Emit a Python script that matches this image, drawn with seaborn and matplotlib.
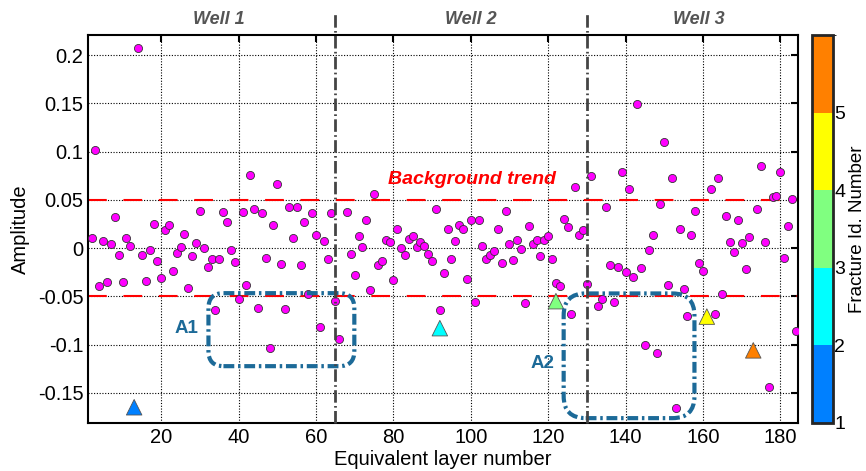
import numpy as np
import pandas as pd
import matplotlib
matplotlib.use("Agg")
import matplotlib.pyplot as plt
import seaborn as sns
from matplotlib.colors import ListedColormap, BoundaryNorm
from matplotlib.patches import FancyBboxPatch

# ---- data ----
layer = [2, 3, 4, 5, 6, 7, 8, 9, 10, 11, 12, 14, 15, 16, 17, 18, 19, 20,
         21, 22, 23, 24, 25, 26, 27, 28, 29, 30, 31, 32, 33, 34, 35, 36, 37, 38, 39, 40,
         41, 42, 43, 44, 45, 46, 47, 48, 49, 50, 51, 52, 53, 54, 55, 56, 57, 58, 59, 60,
         61, 62, 63, 64, 65, 66, 68, 69, 70, 71, 72, 73, 74, 75, 76, 77, 78, 79, 80,
         81, 82, 83, 84, 85, 86, 87, 88, 89, 90, 91, 92, 93, 94, 95, 96, 97, 98, 99, 100,
         101, 102, 103, 104, 105, 106, 107, 108, 109, 110, 111, 112, 113, 114, 115, 116,
         117, 118, 119, 120, 121, 122, 123, 124, 125, 126, 127, 128, 129, 130, 131,
         133, 134, 135, 136, 137, 138, 139, 140, 141, 142, 143, 144, 145, 146, 147, 148,
         149, 150, 151, 152, 153, 154, 155, 156, 157, 158, 159, 160, 162, 163, 164, 165,
         166, 167, 168, 169, 170, 171, 172, 174, 175, 176, 177, 178, 179, 180, 181, 182,
         183, 184]
amplitude = [0.011, 0.102, -0.039, 0.007, -0.035, 0.004, 0.032, -0.007, -0.035, 0.011, 0.002,
             0.207, -0.007, -0.034, -0.002, 0.025, -0.013, -0.031,
             0.019, 0.024, -0.024, -0.005, 0.001, 0.015, -0.041, -0.008, 0.005, 0.038,
             0.000, -0.020, -0.011, -0.064, -0.011, 0.037, 0.027, -0.002, -0.014, -0.053,
             0.037, -0.038, 0.076, 0.041, -0.062, 0.036, -0.010, -0.104, 0.024, 0.067,
             -0.016, -0.063, 0.043, 0.011, 0.043, -0.018, 0.027, -0.048, 0.036, 0.014,
             -0.082, 0.007, -0.011, 0.036, -0.055, -0.094, 0.037, -0.006, -0.028, 0.013,
             0.001, 0.029, -0.043, 0.056, -0.018, -0.013, 0.008, 0.006, -0.033,
             0.020, 0.000, -0.007, 0.009, 0.013, 0.001, 0.006, 0.002, -0.006, -0.013,
             0.041, -0.064, -0.026, 0.020, -0.011, 0.007, 0.024, 0.020, -0.032, 0.029,
             -0.056, 0.029, 0.002, -0.011, -0.007, -0.003, 0.020, -0.015, 0.038, 0.004,
             -0.012, 0.008, -0.001, -0.057, 0.023, 0.004,
             0.008, -0.008, 0.008, 0.013, -0.011, -0.036, -0.039, 0.030, 0.022, -0.068,
             0.063, 0.014, 0.019, -0.037, 0.075,
             -0.060, -0.053, 0.043, -0.018, -0.056, -0.020, 0.079, -0.025, 0.061, -0.030,
             0.149, -0.021, -0.100, -0.002, 0.014, -0.109,
             0.046, 0.110, -0.038, 0.073, -0.166, 0.020, -0.042, -0.070, 0.014, 0.038,
             -0.015, -0.024, 0.061, -0.068, 0.073, -0.048,
             0.033, 0.006, -0.004, 0.029, 0.005, -0.022, 0.012, 0.041, 0.085, 0.006,
             -0.144, 0.053, 0.054, 0.079, -0.010, 0.023,
             0.051, -0.086]

frac_layer = [13, 92, 122, 161, 173]
frac_amp = [-0.165, -0.083, -0.055, -0.071, -0.106]
frac_id = [1, 2, 3, 4, 5]
frac_colors = ["#0080ff", "#00ffff", "#80ff80", "#ffff00", "#ff8000"]

well_names = ["Well 1", "Well 2", "Well 3"]
well_centres = [35, 100, 159]
well_bounds = [65, 130]
trend_levels = [-0.0495, 0.05]

xticks = [20, 40, 60, 80, 100, 120, 140, 160, 180]
yticks = [-0.15, -0.1, -0.05, 0, 0.05, 0.1, 0.15, 0.2]
ytick_labels = ["-0.15", "-0.1", "-0.05", "0", "0.05", "0.1", "0.15", "0.2"]

# anomaly zones: x0, x1, y0, y1, corner radius (px), label x, label y
box_names = ["A1", "A2"]
box_x0 = [32.2, 124.0]
box_x1 = [69.9, 157.8]
box_y0 = [-0.1224, -0.1763]
box_y1 = [-0.0467, -0.047]
box_radius = [15, 22]
box_label_x = [26.6, 118.6]
box_label_y = [-0.083, -0.12]

box_color = "#1c6a98"

# ---- style ----
sns.set_style("white")
plt.rcParams["font.family"] = ["Liberation Sans", "DejaVu Sans"]
plt.rcParams.update({"text.color": "black", "axes.labelcolor": "black",
                     "xtick.color": "black", "ytick.color": "black"})

fig = plt.figure(figsize=(8.66, 4.71), dpi=100)
ax = fig.add_axes([0.1013, 0.1026, 0.8199, 0.8231])
cax = fig.add_axes([0.938, 0.1026, 0.0236, 0.8231])

pts = pd.DataFrame({"layer": layer, "amplitude": amplitude})
sns.scatterplot(data=pts, x="layer", y="amplitude", ax=ax, color="#ff00ff",
                s=34, edgecolor="#333333", linewidth=0.6, zorder=3)

tri = pd.DataFrame({"layer": frac_layer, "amplitude": frac_amp, "id": frac_id})
sns.scatterplot(data=tri, x="layer", y="amplitude", hue="id",
                palette=dict(zip(frac_id, frac_colors)), marker="^", s=125,
                edgecolor="#555555", linewidth=0.6, legend=False, ax=ax, zorder=4)

ax.set_xlim(1, 184.5)
ax.set_ylim(-0.181, 0.221)
ax.set_xticks(xticks)
ax.set_yticks(yticks)
ax.set_yticklabels(ytick_labels)
ax.tick_params(direction="in", length=5, width=1.5, top=True, right=True,
               labelsize=14.5, pad=4)
ax.tick_params(axis="y", pad=3)
ax.grid(True, color="black", linestyle=(0, (1, 1.5)), linewidth=0.8)
for sp in ax.spines.values():
    sp.set_linewidth(1.5)
    sp.set_color("black")
ax.set_xlabel("Equivalent layer number", fontsize=14.5, labelpad=2)
ax.set_ylabel("Amplitude", fontsize=14.5, labelpad=6)

# background trend
for lv in trend_levels:
    ax.axhline(lv, color="red", lw=1.5, linestyle=(0, (9, 8)), zorder=2)
ax.text(100.3, 0.0716, "Background trend", color="red", fontsize=14,
        fontweight="bold", fontstyle="italic", ha="center", va="center")

# well separators and names
for xb in well_bounds:
    ax.plot([xb, xb], [0, 1.057], transform=ax.get_xaxis_transform(), clip_on=False,
            color="#444444", lw=2, linestyle=(0, (4.5, 1.2, 0.6, 1.2)), zorder=5)
for name, xc in zip(well_names, well_centres):
    ax.text(xc, 1.04, name, transform=ax.get_xaxis_transform(), ha="center",
            va="center", fontsize=13, fontweight="bold", fontstyle="italic",
            color="#555555")

# anomaly zones (rounded dash-dot boxes)
p0 = ax.transData.transform((0, 0))
p1 = ax.transData.transform((1, 1))
px_x = p1[0] - p0[0]
px_y = p1[1] - p0[1]
aspect = px_x / px_y
for i, name in enumerate(box_names):
    r = box_radius[i] / px_x
    patch = FancyBboxPatch((box_x0[i], box_y0[i]), box_x1[i] - box_x0[i],
                           box_y1[i] - box_y0[i],
                           boxstyle=f"round,pad=0,rounding_size={r}",
                           mutation_aspect=aspect, fill=False, edgecolor=box_color,
                           lw=3, linestyle=(0, (2.6, 0.9, 0.6, 0.9)), zorder=4)
    ax.add_patch(patch)
    ax.text(box_label_x[i], box_label_y[i], name, color=box_color, fontsize=13.5,
            fontweight="bold", ha="center", va="center")

# colour bar
cmap = ListedColormap(frac_colors)
norm = BoundaryNorm([1, 2, 3, 4, 5, 6], cmap.N)
cb = fig.colorbar(matplotlib.cm.ScalarMappable(norm=norm, cmap=cmap), cax=cax,
                  ticks=frac_id)
cb.outline.set_linewidth(2)
cax.tick_params(direction="in", length=4, width=1.2, labelsize=14, pad=1)
cb.set_label("Fracture Id. Number", fontsize=13.5)
cax.yaxis.set_label_coords(2.2, 0.5)
cax.yaxis.label.set_verticalalignment("center")

fig.savefig("out.png", dpi=100)
